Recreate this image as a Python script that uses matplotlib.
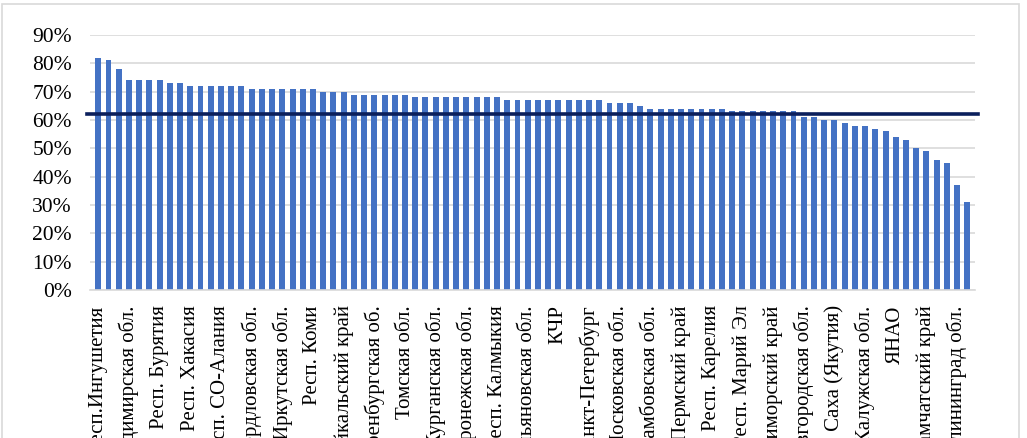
import matplotlib
matplotlib.use("Agg")
import matplotlib.pyplot as plt
from matplotlib.patches import Rectangle
from matplotlib.ticker import PercentFormatter

# доля по регионам (86 столбцов, по убыванию)
values = [82, 81, 78, 74, 74, 74, 74, 73, 73, 72,
          72, 72, 72, 72, 72, 71, 71, 71, 71, 71,
          71, 71, 70, 70, 70, 69, 69, 69, 69, 69,
          69, 68, 68, 68, 68, 68, 68, 68, 68, 68,
          67, 67, 67, 67, 67, 67, 67, 67, 67, 67,
          66, 66, 66, 65, 64, 64, 64, 64, 64, 64,
          64, 64, 63, 63, 63, 63, 63, 63, 63, 61,
          61, 60, 60, 59, 58, 58, 57, 56, 54, 53,
          50, 49, 46, 45, 37, 31]

# подписи видны только у каждого третьего столбца
labels = ["Респ.Ингушетия", "Владимирская обл.", "Респ. Бурятия", "Респ. Хакасия",
          "Респ. СО-Алания", "Свердловская обл.", "Иркутская обл.", "Респ. Коми",
          "Забайкальский край", "Оренбургская об.", "Томская обл.", "Курганская обл.",
          "Воронежская обл.", "Респ. Калмыкия", "Ульяновская обл.", "КЧР",
          "Санкт-Петербург", "Московская обл.", "Тамбовская обл.", "Пермский край",
          "Респ. Карелия", "Респ. Марий Эл", "Приморский край", "Новгородская обл.",
          "Респ. Саха (Якутия)", "Калужская обл.", "ЯНАО", "Камчатский край",
          "Калининград обл."]
label_step = 3

average = 62.2

plt.rcParams['font.family'] = ['Liberation Serif', 'DejaVu Serif']

fig = plt.figure(figsize=(10.27, 4.38), dpi=100)
ax = fig.add_axes([90 / 1027, 1 - 290 / 438, 885 / 1027, 255 / 438])

x = list(range(len(values)))
ax.bar(x, [v / 100 for v in values], width=0.58, color='#4472C4', zorder=2)
ax.axhline(average / 100, color='#0B1F5C', linewidth=2.6, zorder=3,
           xmin=-0.003, xmax=1.003, clip_on=False)

ax.set_xlim(-0.81, 85.75)
ax.set_ylim(0, 0.9)
ax.set_yticks([i / 10 for i in range(10)])
ax.yaxis.set_major_formatter(PercentFormatter(1.0, decimals=0))
ax.grid(axis='y', color='#D9D9D9', linewidth=1.2, zorder=0)

ax.set_xticks(x[::label_step])
ax.set_xticklabels(labels, rotation=90, va='top', ha='center')
ax.tick_params(axis='x', length=0, pad=11, labelsize=15)
ax.tick_params(axis='y', length=0, pad=13, labelsize=15.5)

for s in ['top', 'right', 'left']:
    ax.spines[s].set_visible(False)
ax.spines['bottom'].set_color('#D9D9D9')
ax.spines['bottom'].set_linewidth(1.2)

# рамка диаграммы
fig.add_artist(Rectangle((2 / 1027, -0.1), 1017 / 1027, 1.1 - 4 / 438,
                         transform=fig.transFigure, fill=False,
                         edgecolor='#D9D9D9', linewidth=1.2))

fig.savefig('out.png', dpi=100)
